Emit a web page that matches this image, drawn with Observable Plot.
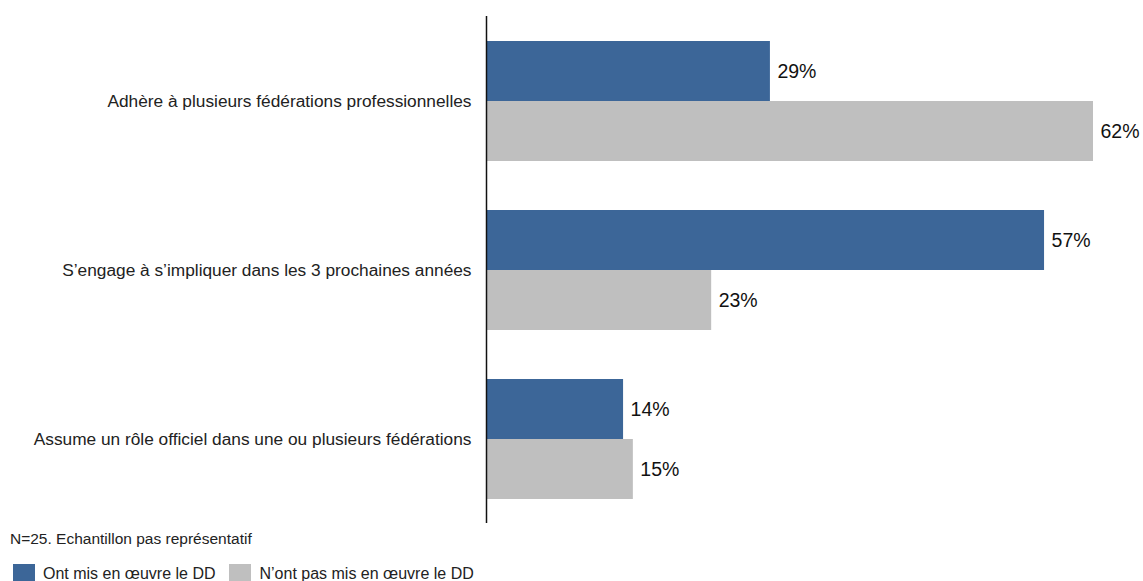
<!DOCTYPE html>
<html>
<head>
<meta charset="utf-8">
<script src="https://cdn.jsdelivr.net/npm/d3@7"></script>
<script src="https://cdn.jsdelivr.net/npm/@observablehq/plot@0.6"></script>
<style>
  html, body { margin: 0; padding: 0; background: #fff; }
  body { font-family: "Liberation Sans", Arial, sans-serif; width: 1143px; height: 581px; overflow: hidden; }
  #chart svg { display: block; }
  #note { position: absolute; left: 10px; top: 530px; font-size: 15.5px; color: #222; }
  #legend { position: absolute; left: 13px; top: 564px; font-size: 16px; color: #222; display: flex; align-items: center; }
  .sw { display: inline-block; width: 22px; height: 20px; margin-right: 8px; }
  .item { display: flex; align-items: center; margin-right: 14px; }
</style>
</head>
<body>
<div id="chart"></div>
<div id="note"></div>
<div id="legend"></div>
<script>
const categories = [
  "Adhère à plusieurs fédérations professionnelles",
  "S’engage à s’impliquer dans les 3 prochaines années",
  "Assume un rôle officiel dans une ou plusieurs fédérations"
];
const seriesNames = ["Ont mis en œuvre le DD", "N’ont pas mis en œuvre le DD"];
const seriesColors = ["#3C6698", "#BFBFBF"];
const valuesImplemented = [29, 57, 14];
const valuesNotImplemented = [62, 23, 15];
const note = "N=25. Echantillon pas représentatif";

const data = [];
categories.forEach((c, i) => {
  data.push({category: c, series: seriesNames[0], value: valuesImplemented[i]});
  data.push({category: c, series: seriesNames[1], value: valuesNotImplemented[i]});
});

const maxV = d3.max(data, d => d.value);

const chart = Plot.plot({
  width: 1143,
  height: 528,
  marginTop: 16,
  marginBottom: 5,
  marginLeft: 486,
  marginRight: 50,
  style: {fontFamily: "'Liberation Sans', Arial, sans-serif", background: "#fff"},
  x: {domain: [0, maxV], axis: null},
  y: {domain: seriesNames, paddingInner: 0, paddingOuter: 0.4, axis: null},
  fy: {domain: categories, padding: 0, label: null},
  color: {domain: seriesNames, range: seriesColors},
  marks: [
    Plot.barX(data, {x: "value", y: "series", fy: "category", fill: "series"}),
    Plot.text(data, {x: "value", y: "series", fy: "category", text: d => d.value + "%", textAnchor: "start", dx: 7, fontSize: 19.5, fill: "#111"}),
    Plot.ruleX([0], {stroke: "#111", strokeWidth: 1.5}),
    Plot.axisFy({anchor: "left", tickSize: 0, tickPadding: 15, fontSize: 17.3, label: null, color: "#222"})
  ]
});
document.getElementById("chart").appendChild(chart);
document.getElementById("note").textContent = note;

const legend = document.getElementById("legend");
seriesNames.forEach((s, i) => {
  const item = document.createElement("span");
  item.className = "item";
  const sw = document.createElement("span");
  sw.className = "sw";
  sw.style.background = seriesColors[i];
  item.appendChild(sw);
  item.appendChild(document.createTextNode(s));
  legend.appendChild(item);
});
</script>
</body>
</html>
